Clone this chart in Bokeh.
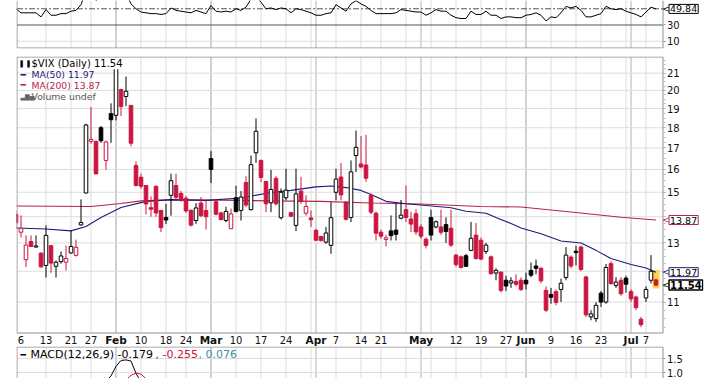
import math
from bokeh.plotting import figure
from bokeh.models import Range1d, ColumnDataSource, FixedTicker, Label, PrintfTickFormatter
from bokeh.layouts import column
from bokeh.embed import file_html
from bokeh.resources import INLINE
from bokeh.core.properties import value

# ---------------- data (trading-day index 0 = Jan 6) ----------------
first_idx = -1
prev_close_before = 14.23
opens = [14.10, 13.40, 12.40, 13.05, 12.85, 12.63, 12.20, 12.90, 12.17, 12.33, 12.31, 12.64, 12.55, 13.68,
         14.97, 17.32, 17.32, 18.00, 16.41, 18.73, 18.64, 20.05, 19.66, 19.17, 16.18, 15.65, 15.29, 14.36,
         15.25, 14.25, 13.97, 14.87, 15.29, 14.95, 14.75, 14.25, 13.85, 14.55, 14.25, 16.50, 14.60, 14.15,
         13.85, 13.53, 14.77, 14.25, 15.42, 14.28, 16.77, 16.41, 15.46, 14.56, 15.60, 13.96, 14.77, 14.16,
         13.66, 15.05, 14.14, 13.95, 13.47, 13.24, 13.03, 12.91, 15.00, 15.66, 14.59, 13.97, 16.64, 16.25,
         16.20, 14.87, 14.14, 13.40, 13.13, 13.45, 13.48, 13.94, 14.28, 13.91, 14.12, 13.60, 13.14, 13.97,
         13.60, 13.60, 13.69, 13.55, 12.56, 12.50, 12.54, 12.73, 13.29, 13.10, 12.69, 12.50, 11.94, 11.97,
         11.70, 11.61, 11.66, 11.70, 11.70, 12.03, 12.18, 12.10, 11.37, 11.24, 11.33, 11.40, 11.79, 12.49,
         12.70, 12.85, 11.81, 10.55, 10.50, 11.28, 11.00, 12.26, 11.53, 11.70, 11.77, 11.33, 11.16, 10.48,
         11.13, 11.70, 11.71]
highs = [14.25, 14.05, 13.28, 13.28, 13.28, 12.66, 13.66, 12.92, 12.37, 12.69, 12.90, 13.47, 13.12, 14.70,
         18.20, 19.08, 17.35, 18.09, 17.36, 19.28, 21.48, 20.10, 20.80, 19.20, 16.37, 15.81, 15.30, 14.83,
         15.30, 14.25, 14.52, 15.81, 15.81, 15.05, 14.85, 14.30, 14.55, 14.80, 14.66, 16.85, 14.70, 14.20,
         14.40, 14.32, 15.28, 15.05, 15.70, 16.64, 18.48, 16.45, 15.48, 15.98, 15.70, 15.16, 16.03, 14.20,
         16.03, 15.67, 14.87, 14.25, 13.53, 13.26, 13.60, 14.59, 16.03, 16.29, 14.62, 16.41, 17.86, 17.58,
         17.64, 14.95, 14.20, 13.50, 13.30, 14.05, 14.52, 14.68, 15.29, 14.20, 14.30, 13.70, 13.20, 14.28,
         13.85, 14.28, 13.97, 14.28, 12.60, 12.55, 12.60, 13.79, 13.75, 13.20, 13.00, 12.55, 12.10, 12.00,
         11.85, 11.80, 11.90, 11.80, 11.95, 12.30, 12.40, 12.15, 11.50, 11.45, 11.40, 11.75, 12.85, 12.55,
         12.90, 12.90, 11.85, 10.75, 11.00, 11.35, 12.25, 12.35, 11.80, 11.80, 11.85, 11.40, 11.20, 10.55,
         11.50, 12.56, 11.75]
lows = [13.55, 13.20, 12.14, 12.85, 12.83, 12.12, 11.79, 11.95, 11.79, 12.26, 12.03, 12.61, 12.51, 13.65,
        14.95, 17.20, 15.78, 17.25, 15.98, 17.25, 18.38, 18.60, 19.13, 17.08, 15.25, 15.15, 14.09, 14.00,
        14.00, 13.41, 13.71, 14.04, 14.66, 14.60, 14.15, 13.62, 13.72, 13.98, 13.50, 15.40, 14.05, 13.85,
        13.78, 13.53, 14.18, 13.85, 14.39, 14.25, 16.30, 15.43, 14.18, 14.18, 14.45, 13.89, 14.66, 13.98,
        13.44, 14.52, 14.04, 13.60, 13.09, 13.05, 12.97, 12.61, 14.66, 14.66, 13.85, 13.79, 15.88, 16.05,
        15.45, 14.10, 13.09, 13.15, 12.87, 13.09, 13.09, 13.90, 13.79, 13.41, 13.30, 13.15, 12.80, 13.09,
        13.55, 13.30, 13.00, 12.85, 12.15, 12.10, 12.15, 12.70, 12.40, 12.38, 12.60, 11.88, 11.70, 11.30,
        11.35, 11.45, 11.50, 11.35, 11.40, 11.80, 11.90, 11.60, 10.70, 10.95, 10.90, 11.00, 11.70, 12.10,
        12.20, 12.00, 10.55, 10.45, 10.40, 10.85, 10.95, 11.55, 11.45, 11.20, 11.30, 11.00, 10.75, 10.25,
        11.00, 11.60, 11.50]
closes = [13.76, 13.55, 12.92, 12.87, 12.89, 12.15, 13.28, 12.28, 12.31, 12.53, 12.44, 12.87, 12.84, 13.77,
          18.14, 17.42, 15.80, 17.35, 17.29, 18.41, 21.44, 19.11, 19.95, 17.23, 15.29, 15.26, 14.51, 14.30,
          14.15, 13.57, 13.87, 15.50, 14.79, 14.68, 14.23, 13.67, 14.35, 14.04, 14.00, 16.00, 14.10, 13.89,
          14.21, 14.11, 14.20, 14.80, 14.47, 16.22, 17.82, 15.64, 14.52, 15.12, 14.52, 15.00, 15.09, 14.02,
          14.93, 14.62, 14.41, 13.88, 13.10, 13.09, 13.37, 13.96, 15.57, 14.89, 13.90, 15.89, 17.03, 16.11,
          15.61, 14.18, 13.36, 13.25, 13.19, 13.27, 13.32, 14.06, 13.97, 13.71, 13.41, 13.25, 12.91, 13.29,
          13.80, 13.40, 13.43, 12.92, 12.23, 12.13, 12.17, 13.17, 12.44, 12.42, 12.92, 11.92, 12.03, 11.37,
          11.51, 11.68, 11.57, 11.40, 11.58, 11.87, 12.10, 11.68, 10.75, 11.15, 10.99, 11.60, 12.56, 12.18,
          12.65, 12.06, 10.61, 10.64, 10.90, 11.00, 12.13, 11.59, 11.64, 11.26, 11.57, 11.10, 10.83, 10.32,
          11.40, 12.00, 11.54]

ma50_idx = [-1, 5, 10, 13, 16, 20, 25, 30, 37, 44, 50, 54, 59, 62, 65, 68, 70, 73, 77, 81, 86, 89, 93,
            95, 98, 100, 104, 108, 112, 115, 118, 122, 125, 127]
ma50_val = [13.56, 13.52, 13.45, 13.62, 13.97, 14.37, 14.62, 14.69, 14.66, 14.76, 14.99, 15.08, 15.23,
            15.27, 15.20, 15.08, 14.91, 14.62, 14.52, 14.45, 14.36, 14.22, 14.14, 13.97, 13.73, 13.56,
            13.34, 13.07, 13.00, 12.73, 12.44, 12.23, 12.11, 11.97]
ma200_idx = [-1, 14, 20, 24, 30, 40, 50, 60, 70, 80, 92, 100, 110, 120, 127]
ma200_val = [14.43, 14.41, 14.53, 14.64, 14.68, 14.67, 14.64, 14.62, 14.55, 14.51, 14.41, 14.39, 14.19,
             13.98, 13.87]

rsi_vals = [50, 45, 45, 45, 45, 40, 49, 42, 42, 44, 44, 47, 48, 55, 72, 68, 60, 65, 64, 67, 74, 68, 69,
            56, 50, 46, 45, 44, 44, 43, 44, 51, 48, 47, 46, 45, 48, 46, 44, 54, 47, 46, 47, 46, 50, 48,
            52, 62, 66, 58, 50, 51, 49, 51, 50, 45, 50, 49, 47, 45, 42, 42, 44, 45, 55, 51, 47, 56, 60,
            56, 53, 48, 44, 44, 44, 44, 45, 49, 48, 47, 46, 46, 42, 45, 49, 47, 47, 42, 39, 38, 38, 47,
            43, 43, 47, 42, 42, 38, 40, 40, 39, 39, 42, 43, 45, 42, 35, 40, 39, 45, 53, 51, 53, 48, 40,
            40, 42, 44, 53, 50, 49, 50, 47, 45, 43, 40, 46, 52, 49.84]

macd_idx = [16, 17, 18, 19, 20, 21, 22, 23, 24, 25]
macd_val = [0.55, 0.70, 0.88, 1.22, 1.43, 1.45, 1.41, 0.97, 0.66, 0.50]
sig_idx = [20, 21, 22, 23, 24, 25, 26]
sig_val = [0.60, 0.74, 0.90, 0.98, 0.94, 0.78, 0.62]

week_idx = [5, 10, 14, 19, 24, 29, 33, 38, 43, 48, 53, 58, 63, 68, 72, 77, 82, 87, 92, 97, 101, 106,
            111, 116, 121, 125]
month_idx = [19, 38, 59, 80, 101, 122]
month_lbl = ["Feb", "Mar", "Apr", "May", "Jun", "Jul"]
num_tick_idx = [0, 5, 10, 14, 24, 29, 33, 43, 48, 53, 63, 68, 72, 87, 92, 97, 106, 111, 116, 125]
num_tick_lbl = ["6", "13", "21", "27", "10", "18", "24", "10", "17", "24", "7", "14", "21", "12", "19",
                "27", "9", "16", "23", "7"]
price_ticks = [11, 13, 15, 16, 17, 18, 19, 20, 21]
price_grid = [10, 11, 12, 13, 14, 15, 16, 17, 18, 19, 20, 21, 22]
rsi_ticks = [10, 30]
rsi_grid = [10]
macd_ticks = [1.0, 1.5]

last_close = 11.54
ma50_last = 11.97
ma200_last = 13.87
rsi_last = 49.84
macd_last, signal_last, hist_last = -0.179, -0.255, 0.076

# ---------------- layout / style ----------------
FONT = "DejaVu Sans"
RED = "#cc1440"
NAVY = "#1c1c78"
MA_RED = "#b8234a"
WEEK_GRID = "#dddddd"
MONTH_GRID = "#b4b4b4"
BORDER = "#8f8f8f"
W = 727
FL, FR = 16, 24              # canvas margins; value tags live inside the wide frame
PX_PER_DAY = 5.0
XS = -0.9
xr = Range1d(XS, XS + (W - FL - FR) / PX_PER_DAY)
XL, XR = -0.8, 128.4          # panel borders (data x)

P_LO, P_HI = 10.08, 21.98     # price panel bounds
P_H = 276.0                   # price panel height in px
k_ln = math.log(P_HI / P_LO) / P_H
p_frame = Range1d(P_LO * math.exp(-13.5 * k_ln), P_HI * math.exp(0.5 * k_ln))
date_y = P_LO * math.exp(-7.0 * k_ln)

RSI_LO, RSI_HI, RSI_BOT = 1.0, 60.2, 1.6
M_LO, M_HI, M_TOP = 0.786, 1.929, 1.911


def common(fig):
    fig.background_fill_color = "white"
    fig.border_fill_color = "white"
    fig.outline_line_color = None
    for g in list(fig.xgrid) + list(fig.ygrid):
        g.visible = False


def vgrid(fig, lo, hi):
    fig.segment(x0=week_idx, x1=week_idx, y0=[lo] * len(week_idx), y1=[hi] * len(week_idx),
                line_color=WEEK_GRID, line_width=1)
    fig.segment(x0=month_idx, x1=month_idx, y0=[lo] * len(month_idx), y1=[hi] * len(month_idx),
                line_color=MONTH_GRID, line_width=1)


def hgrid(fig, vals, color=WEEK_GRID, dash="solid"):
    fig.segment(x0=[XL] * len(vals), x1=[XR] * len(vals), y0=vals, y1=vals, line_color=color,
                line_width=1, line_dash=dash)


def style_yaxis(ax, ticks, fmt, minor=None):
    ax.fixed_location = XR
    ax.ticker = FixedTicker(ticks=ticks, minor_ticks=minor or [])
    ax.formatter = PrintfTickFormatter(format=fmt)
    ax.axis_line_color = None
    ax.major_tick_line_color = "#999999"
    ax.major_tick_out = 2
    ax.major_tick_in = 0
    ax.minor_tick_line_color = "#bbbbbb"
    ax.minor_tick_out = 2
    ax.minor_tick_in = 0
    ax.major_label_standoff = 2
    ax.major_label_text_font = FONT
    ax.major_label_text_font_size = "10px"
    ax.major_label_text_color = "#111111"


def tag(fig, val, text, colr, bold=False):
    fig.add_layout(Label(x=XR, y=val, text="<", x_offset=-1, text_baseline="middle",
                         text_font=FONT, text_font_size="9px", text_color=colr))
    fig.add_layout(Label(x=XR, y=val, text=text, x_offset=6, text_baseline="middle",
                         text_font=FONT, text_font_size="10px" if bold else "9.5px",
                         text_font_style="bold" if bold else "normal", text_color="black",
                         border_line_color=colr, border_line_width=1.5 if bold else 1,
                         background_fill_color="white", padding=1))


# ---------------- RSI panel (top, cut) ----------------
r = figure(width=W, height=50, x_range=xr, y_range=Range1d(RSI_LO, RSI_HI), output_backend="svg",
           toolbar_location=None, x_axis_location=None, y_axis_location="right",
           min_border_top=0, min_border_bottom=2, min_border_left=FL, min_border_right=FR)
common(r)
style_yaxis(r.yaxis[0], rsi_ticks, "%d")
vgrid(r, RSI_BOT, RSI_HI)
hgrid(r, rsi_grid)
hgrid(r, [30], "#555555")
hgrid(r, [50], "#555555", "6 2 2 2")
rsi_x = list(range(first_idx, first_idx + len(rsi_vals)))
r.line(rsi_x, rsi_vals, line_color="black", line_width=1)
r.segment(x0=[XL, XR, XL], x1=[XL, XR, XR], y0=[RSI_BOT, RSI_BOT, RSI_BOT],
          y1=[RSI_HI, RSI_HI, RSI_BOT], line_color=BORDER, line_width=1)
tag(r, rsi_last, f"{rsi_last:.2f}", "black")

# ---------------- price panel ----------------
p = figure(width=W, height=296, x_range=xr, y_range=p_frame, y_axis_type="log",
           x_axis_location=None, y_axis_location="right", output_backend="svg", toolbar_location=None,
           min_border_top=6, min_border_bottom=0, min_border_left=FL, min_border_right=FR)
common(p)
minor = [round(10 + 0.25 * k, 2) for k in range(0, 49) if P_LO <= 10 + 0.25 * k <= P_HI]
style_yaxis(p.yaxis[0], price_ticks, "%d", minor)
vgrid(p, P_LO, P_HI)
hgrid(p, [g for g in price_grid if P_LO < g < P_HI])

p.text(x=num_tick_idx, y=[date_y] * len(num_tick_idx), text=num_tick_lbl, text_align="center",
       text_baseline="middle", text_font=value(FONT), text_font_size="10px", text_color="#111111")
p.text(x=month_idx, y=[date_y] * len(month_idx), text=month_lbl, text_align="center",
       text_baseline="middle", text_font=value(FONT), text_font_size="10.5px",
       text_font_style="bold", text_color="#111111")

n = len(closes)
idx = list(range(first_idx, first_idx + n))
prev = [prev_close_before] + closes[:-1]
col = [RED if c < pc else "black" for c, pc in zip(closes, prev)]
fill = ["white" if c > o else cc for o, c, cc in zip(opens, closes, col)]
src = ColumnDataSource(dict(x=idx, top=[max(o, c) for o, c in zip(opens, closes)],
                            bottom=[min(o, c) for o, c in zip(opens, closes)],
                            high=highs, low=lows, color=col, fill=fill))

# highlight behind the latest bar
p.vbar(x=[idx[-1]], top=[ma50_last * 1.006], bottom=[lows[-1] * 0.994], width=1.4,
       fill_color="#ffd54a", line_color=None)
p.line(ma200_idx, ma200_val, line_color=MA_RED, line_width=1.1)
p.line(ma50_idx, ma50_val, line_color=NAVY, line_width=1.1)
p.segment(x0="x", y0="low", x1="x", y1="high", line_color="color", line_width=1, source=src)
p.vbar(x="x", top="top", bottom="bottom", width=0.72, fill_color="fill", line_color="color",
       line_width=1, source=src)
p.quad(left=[XL], right=[XR], bottom=[P_LO], top=[P_HI], fill_color=None, line_color=BORDER,
       line_width=1)

tag(p, ma200_last, f"{ma200_last:.2f}", MA_RED)
tag(p, ma50_last, f"{ma50_last:.2f}", NAVY)
tag(p, last_close, f"{last_close:.2f}", "black", bold=True)

# legend text (frame-relative screen units)
FH = 290
legend_rows = [
    ("\u258C\u2590", "black", "$VIX (Daily) %.2f" % last_close, "black", "10px", "6px"),
    ("\u2501", NAVY, "MA(50) %.2f" % ma50_last, NAVY, "9.3px", "9px"),
    ("\u2501", MA_RED, "MA(200) %.2f" % ma200_last, MA_RED, "9.3px", "9px"),
    ("\u2583\u2587\u2585", "#666666", "Volume undef", "#555555", "9.3px", "6px"),
]
for k, (icon, icol, txt, tcol, fs, ifs) in enumerate(legend_rows):
    yy = FH - 7.3 - 10.8 * k
    p.add_layout(Label(x=15, y=yy, x_units="screen", y_units="screen", text=txt, text_color=tcol,
                       text_font=FONT, text_font_size=fs, text_baseline="middle",
                       background_fill_color="white" if k == 0 else None))
    p.add_layout(Label(x=4, y=yy, x_units="screen", y_units="screen", text=icon, text_color=icol,
                       text_font=FONT, text_font_size=ifs, text_baseline="middle"))

# ---------------- MACD panel (bottom, cut) ----------------
m = figure(width=W, height=32, x_range=xr, y_range=Range1d(M_LO, M_HI), output_backend="svg",
           toolbar_location=None, x_axis_location=None, y_axis_location="right",
           min_border_top=0, min_border_bottom=0, min_border_left=FL, min_border_right=FR)
common(m)
style_yaxis(m.yaxis[0], macd_ticks, "%.1f")
vgrid(m, M_LO, M_TOP)
hgrid(m, macd_ticks)
m.line(macd_idx, macd_val, line_color="black", line_width=1)
m.line(sig_idx, sig_val, line_color=RED, line_width=1)
m.segment(x0=[XL, XR, XL], x1=[XL, XR, XR], y0=[M_LO, M_LO, M_TOP], y1=[M_TOP, M_TOP, M_TOP],
          line_color=BORDER, line_width=1)
MH = 32
m.add_layout(Label(x=4, y=MH - 8, x_units="screen", y_units="screen", text="\u2501", text_color="black",
                   text_font=FONT, text_font_size="9px", text_baseline="middle"))
for xx, t, c in [(14, "MACD(12,26,9) %.3f" % macd_last, "black"),
                 (139, ", %.3f" % signal_last, RED),
                 (182, ", %.3f" % hist_last, "#3d8fb0")]:
    m.add_layout(Label(x=xx, y=MH - 8, x_units="screen", y_units="screen", text=t, text_color=c,
                       text_font=FONT, text_font_size="11px", text_baseline="middle"))

layout = column(r, p, m, spacing=0)
open("out.html", "w").write(file_html(layout, INLINE))
